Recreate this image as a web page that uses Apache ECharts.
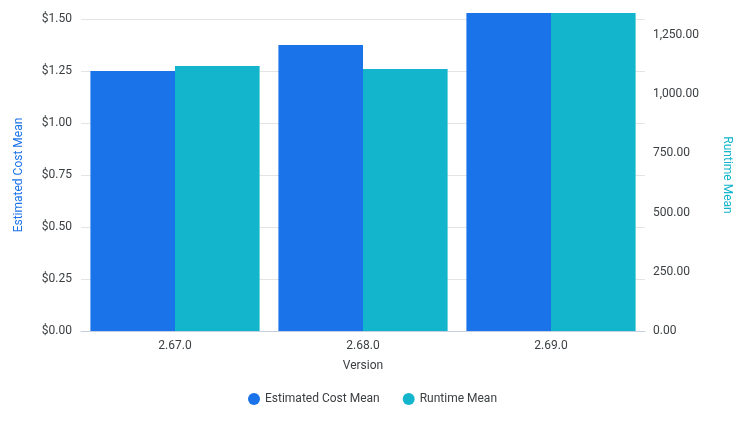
<!DOCTYPE html>
<html>
<head>
<meta charset="utf-8">
<script src="https://cdn.jsdelivr.net/npm/echarts@6/dist/echarts.min.js"></script>
<style>html,body{margin:0;padding:0;background:#fff;}#c{width:745px;height:429px;}</style>
</head>
<body>
<div id="c"></div>
<script>
const categories = ['2.67.0', '2.68.0', '2.69.0'];
const estimatedCostMean = [1.25, 1.375, 1.529];
const runtimeMean = [1119, 1107, 1343];

const chart = echarts.init(document.getElementById('c'), null, {renderer: 'canvas'});
const FONT = 'Roboto';
chart.setOption({
  animation: false,
  textStyle: {fontFamily: FONT},
  grid: {left: 81, right: 100, top: 19, bottom: 98, containLabel: false},
  legend: {
    bottom: 19, left: 'center', icon: 'circle', itemWidth: 12, itemHeight: 12, itemGap: 23,
    textStyle: {fontFamily: FONT, fontSize: 12, color: '#3c4043'},
    data: ['Estimated Cost Mean', 'Runtime Mean']
  },
  xAxis: {
    type: 'category', data: categories,
    name: 'Version', nameLocation: 'middle', nameGap: 29,
    nameTextStyle: {fontFamily: FONT, fontSize: 12, color: '#3c4043'},
    axisLine: {lineStyle: {color: '#c6cfe0', width: 1}},
    axisTick: {show: false},
    axisLabel: {fontFamily: FONT, fontSize: 12, color: '#3c4043', margin: 9}
  },
  yAxis: [
    {
      type: 'value', min: 0, max: 1.5, interval: 0.25,
      name: 'Estimated Cost Mean', nameLocation: 'middle', nameGap: 56,
      nameTextStyle: {fontFamily: FONT, fontSize: 12, color: '#1a73e8'},
      axisLine: {show: false}, axisTick: {show: false},
      splitLine: {lineStyle: {color: '#e4e4e4'}},
      axisLabel: {fontFamily: FONT, fontSize: 12, color: '#3c4043', margin: 9,
        formatter: v => '$' + v.toFixed(2)}
    },
    {
      type: 'value', min: 0, max: 1318, interval: 250,
      name: 'Runtime Mean', nameLocation: 'middle', nameGap: 76, nameRotate: -90,
      nameTextStyle: {fontFamily: FONT, fontSize: 12, color: '#12b5cb'},
      axisLine: {show: false}, axisTick: {show: false},
      splitLine: {show: false},
      axisLabel: {fontFamily: FONT, fontSize: 12, color: '#3c4043', margin: 8, showMaxLabel: false,
        formatter: v => v.toLocaleString('en-US', {minimumFractionDigits: 2, maximumFractionDigits: 2})}
    }
  ],
  series: [
    {name: 'Estimated Cost Mean', type: 'bar', yAxisIndex: 0, data: estimatedCostMean,
      itemStyle: {color: '#1a73e8'}, barGap: '0%', barCategoryGap: '10%', clip: false},
    {name: 'Runtime Mean', type: 'bar', yAxisIndex: 1, data: runtimeMean,
      itemStyle: {color: '#12b5cb'}, barGap: '0%', barCategoryGap: '10%', clip: false}
  ]
});
</script>
</body>
</html>
